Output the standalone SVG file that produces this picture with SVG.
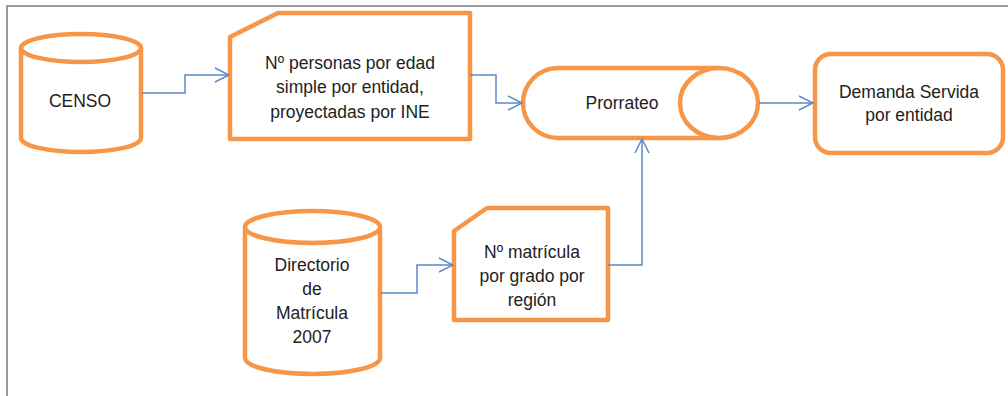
<svg xmlns="http://www.w3.org/2000/svg" width="1008" height="396" viewBox="0 0 1008 396">
<defs>
<marker id="arr" viewBox="0 0 16 16" refX="15" refY="8" markerWidth="16" markerHeight="16" markerUnits="userSpaceOnUse" orient="auto">
<path d="M1,1 L15,8 L1,15" fill="none" stroke="#5B8BC6" stroke-width="1.5"/>
</marker>
<style>
.n{fill:#fff;stroke:#F79646;stroke-width:4.5;stroke-linejoin:round}
.t{font-family:"Liberation Sans",Arial,sans-serif;font-size:17.5px;fill:#222;text-anchor:middle}
.c{fill:none;stroke:#5B8BC6;stroke-width:1.5}
</style>
</defs>
<rect width="1008" height="396" fill="#fff"/>
<path d="M7,396 V6 H1008" fill="none" stroke="#9a9a9a" stroke-width="2"/>
<g id="censo">
<path class="n" d="M21,48 A60,14 0 0 1 141,48 V138 A60,14 0 0 1 21,138 Z"/>
<path class="n" d="M21,48 A60,14 0 0 0 141,48"/>
<text class="t" x="80" y="107">CENSO</text>
</g>
<g id="personas">
<path class="n" d="M278,13 H470 V139 H230 V37 Z"/>
<text class="t" x="350" y="69">Nº personas por edad</text>
<text class="t" x="350" y="93">simple por entidad,</text>
<text class="t" x="350" y="118">proyectadas por INE</text>
</g>
<g id="prorrateo">
<path class="n" d="M558,68 H719 A39,35 0 0 1 719,138 H558 A35,35 0 0 1 558,68 Z"/>
<path class="n" d="M719,68 A39,35 0 0 0 719,138" fill="none"/>
<text class="t" x="622" y="109">Prorrateo</text>
</g>
<g id="demanda">
<rect class="n" x="815" y="54" width="188" height="99" rx="16"/>
<text class="t" x="909" y="98">Demanda Servida</text>
<text class="t" x="909" y="121">por entidad</text>
</g>
<g id="directorio">
<path class="n" d="M245,227 A67.5,16 0 0 1 380,227 V358 A67.5,16 0 0 1 245,358 Z"/>
<path class="n" d="M245,227 A67.5,16 0 0 0 380,227"/>
<text class="t" x="312" y="271">Directorio</text>
<text class="t" x="312" y="295">de</text>
<text class="t" x="312" y="319">Matrícula</text>
<text class="t" x="312" y="343">2007</text>
</g>
<g id="matricula">
<path class="n" d="M487,208 H608 V320 H454 V231 Z"/>
<text class="t" x="532" y="258">Nº matrícula</text>
<text class="t" x="532" y="282">por grado por</text>
<text class="t" x="532" y="306">región</text>
</g>
<g id="connectors">
<path class="c" d="M142,93 H185 V75 H229" marker-end="url(#arr)"/>
<path class="c" d="M470,75 H496 V103 H522" marker-end="url(#arr)"/>
<path class="c" d="M759,103 H813" marker-end="url(#arr)"/>
<path class="c" d="M608,265 H642 V139" marker-end="url(#arr)"/>
<path class="c" d="M381,293 H417 V265 H453" marker-end="url(#arr)"/>
</g>
</svg>
